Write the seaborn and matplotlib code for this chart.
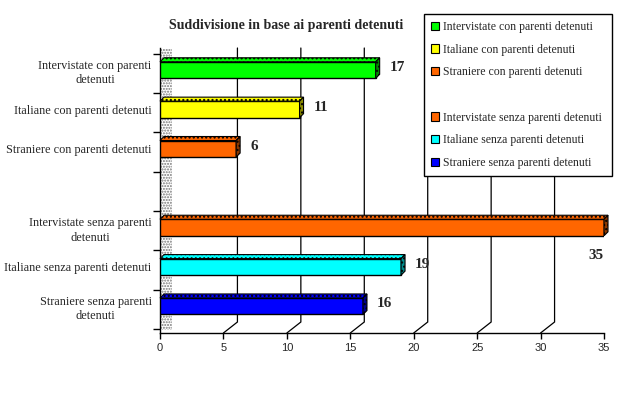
import numpy as np
import pandas as pd
import matplotlib
matplotlib.use("Agg")
import matplotlib.pyplot as plt
from matplotlib.patches import Polygon, Rectangle, Patch
from matplotlib.colors import to_rgb
import seaborn as sns

# ---------------- data ----------------
categories = [
    "Intervistate con parenti detenuti",
    "Italiane con parenti detenuti",
    "Straniere con parenti detenuti",
    "",
    "Intervistate senza parenti detenuti",
    "Italiane senza parenti detenuti",
    "Straniere senza parenti detenuti",
]
tick_labels = [
    "Intervistate con parenti\ndetenuti",
    "Italiane con parenti detenuti",
    "Straniere con parenti detenuti",
    "",
    "Intervistate senza parenti\ndetenuti",
    "Italiane senza parenti detenuti",
    "Straniere senza parenti\ndetenuti",
]
values = [17, 11, 6, np.nan, 35, 19, 16]
colors = ["#00FF00", "#FFFF00", "#FF6600", "#FFFFFF", "#FF6600", "#00FFFF", "#0000FF"]
x_ticks = [0, 5, 10, 15, 20, 25, 30, 35]
title = "Suddivisione in base ai parenti detenuti"

# ---------------- figure ----------------
sns.set_theme(style="white")
plt.rcParams["font.family"] = ["Liberation Serif", "DejaVu Serif"]

W, H = 621, 396
AX_L, AX_R, AX_T, AX_B = 160, 604, 48, 333
fig = plt.figure(figsize=(W / 100, H / 100), dpi=100)
fig.patch.set_facecolor("white")
ax = fig.add_axes([AX_L / W, 1 - AX_B / H, (AX_R - AX_L) / W, (AX_B - AX_T) / H])
ax.set_facecolor("white")

df = pd.DataFrame({"category": categories, "value": values})
palette = {c: col for c, col in zip(categories, colors)}
sns.barplot(data=df, x="value", y="category", order=categories, hue="category",
            hue_order=categories, palette=palette, orient="h", width=0.42,
            saturation=1, edgecolor="black", linewidth=1, legend=False, ax=ax,
            zorder=3)

XMIN, XMAX = 0, 35
Y_TOP, Y_BOT = -0.56, 6.68
ax.set_xlim(XMIN, XMAX)
ax.set_ylim(Y_BOT, Y_TOP)
ax.set_xlabel("")
ax.set_ylabel("")

# pixel -> data unit conversions
ux = (XMAX - XMIN) / (AX_R - AX_L)
uy = (Y_BOT - Y_TOP) / (AX_B - AX_T)

# spines
for s in ["top", "right"]:
    ax.spines[s].set_visible(False)
for s in ["left", "bottom"]:
    ax.spines[s].set_color("black")
    ax.spines[s].set_linewidth(1)

# x ticks
ax.set_xticks(x_ticks)
ax.set_xticklabels([str(t) for t in x_ticks], fontfamily="Liberation Sans", fontsize=8)
ax.tick_params(axis="x", direction="out", length=4, width=1, color="black", pad=3, bottom=True)

# y ticks: labels at rows, tick marks at boundaries
ax.set_yticks(range(len(categories)))
ax.set_yticklabels(tick_labels, fontsize=8.8)
ax.tick_params(axis="y", which="major", length=0, pad=6)
for lab in ax.get_yticklabels():
    lab.set_multialignment("center")
    lab.set_linespacing(1.3)
ax.set_yticks([i + 0.58 for i in range(-1, len(categories))], minor=True)
ax.tick_params(axis="y", which="minor", direction="out", length=5, width=1, color="black", left=True)

# back-wall gridlines with 3D offset
GX, GY = 14, 11
for t in x_ticks[1:-1]:
    xb = t + GX * ux
    yb = Y_BOT - GY * uy
    ax.plot([xb, xb, t], [Y_TOP, yb, Y_BOT], color="black", lw=0.9, zorder=1,
            clip_on=False, solid_joinstyle="miter")

# left wall stipple
ax.add_patch(Rectangle((0, 0.01), 12 / (AX_R - AX_L), 0.985, transform=ax.transAxes,
                       facecolor="white", edgecolor="#777777", hatch="......",
                       lw=0, zorder=2))

# 3D faces on bars
D = 4
ddx, ddy = D * ux, -D * uy
finite = [(v, c) for v, c in zip(values, colors) if np.isfinite(v)]
bars = [q for q in ax.patches if isinstance(q, Rectangle) and np.isfinite(q.get_width())
        and q.get_width() > 0 and q.get_zorder() == 3 and q.get_transform() != ax.transAxes]
for p, (v, c) in zip(bars, finite):
    x0 = p.get_x()
    w = x0 + p.get_width()
    yt = p.get_y()
    yb = yt + p.get_height()
    dark = tuple(np.array(to_rgb(c)) * 0.55)
    top = Polygon([(x0, yt), (x0 + ddx, yt + ddy), (w + ddx, yt + ddy), (w, yt)],
                  closed=True, facecolor=c, edgecolor="black", lw=0.8, hatch="....", zorder=3)
    side = Polygon([(w, yt), (w + ddx, yt + ddy), (w + ddx, yb + ddy), (w, yb)],
                   closed=True, facecolor=dark, edgecolor="black", lw=0.8, hatch="....", zorder=3)
    for poly in (top, side):
        poly.set_clip_on(False)
        ax.add_patch(poly)

# value labels
for i, v in enumerate(values):
    if not np.isfinite(v):
        continue
    if v + 1.5 > XMAX:
        ax.text(v, i + 0.72, f"{int(v)}", ha="right", va="center", fontsize=11,
                fontweight="bold", zorder=5, clip_on=False)
    else:
        ax.text(v + 1.1, i - 0.06, f"{int(v)}", ha="left", va="center", fontsize=11,
                fontweight="bold", zorder=5, clip_on=False)

# title
fig.text(286 / W, 1 - 25 / H, title, ha="center", va="center", fontsize=10, fontweight="bold")

# legend
handles = []
for c, col in zip(categories, colors):
    if c == "":
        handles.append(Patch(facecolor="none", edgecolor="none", label=" "))
    else:
        handles.append(Patch(facecolor=col, edgecolor="black", lw=0.8, label=c))
leg = fig.legend(handles=handles, loc="upper left",
                 bbox_to_anchor=(424 / W, 1 - 176 / H, 188 / W, 162 / H),
                 mode="expand", fontsize=8.5, frameon=True, fancybox=False,
                 edgecolor="black", framealpha=1, handlelength=0.7, handleheight=0.7,
                 handletextpad=0.3, labelspacing=0.9, borderpad=0.6, borderaxespad=0)
leg.get_frame().set_linewidth(1)

fig.savefig("out.png", dpi=100, facecolor="white")
